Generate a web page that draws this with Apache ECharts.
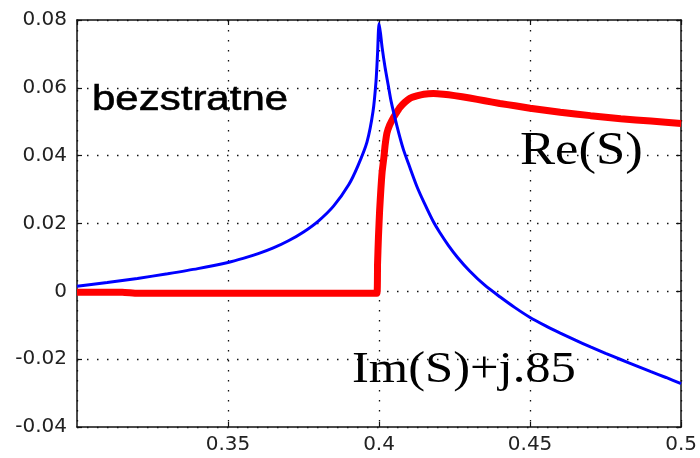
<!DOCTYPE html>
<html><head><meta charset="utf-8">
<script src="https://cdn.jsdelivr.net/npm/echarts@6/dist/echarts.min.js"></script>
<style>html,body{margin:0;padding:0;background:#fff}#c{width:700px;height:458px}</style>
</head><body><div id="c"></div>
<script>
// Im(S)+j.85 (blue)
const imX = [0.300,0.310,0.320,0.330,0.340,0.350,0.355,0.360,0.365,0.370,0.375,0.380,0.385,0.390,0.393,0.396,0.398,0.399,0.3995,0.400,0.4005,0.401,0.402,0.403,0.404,0.406,0.408,0.410,0.4125,0.415,0.418,0.420,0.423,0.426,0.430,0.435,0.440,0.445,0.450,0.455,0.460,0.465,0.470,0.475,0.480,0.485,0.490,0.495,0.500];
const imY = [0.0015,0.0026,0.0038,0.0052,0.0067,0.0085,0.0097,0.0111,0.0128,0.0149,0.0175,0.0208,0.0252,0.0315,0.0370,0.0440,0.0530,0.0620,0.0700,0.0790,0.0760,0.0720,0.0660,0.0610,0.0560,0.0485,0.0420,0.0370,0.0310,0.0260,0.0205,0.0175,0.0135,0.0100,0.0060,0.0018,-0.0016,-0.0048,-0.0077,-0.0101,-0.0123,-0.0144,-0.0164,-0.0183,-0.0201,-0.0219,-0.0237,-0.0254,-0.0272];
// Re(S) (red)
const reX = [0.300,0.315,0.320,0.340,0.360,0.380,0.3993,0.3995,0.3998,0.4002,0.4006,0.401,0.4016,0.402,0.4026,0.4035,0.4048,0.406,0.4069,0.4085,0.4102,0.4125,0.4148,0.418,0.4213,0.425,0.430,0.435,0.440,0.445,0.450,0.460,0.470,0.480,0.490,0.500];
const reY = [-0.0003,-0.0003,-0.0006,-0.0006,-0.0006,-0.0006,-0.0006,0.008,0.016,0.024,0.030,0.035,0.0395,0.043,0.0466,0.049,0.0513,0.053,0.0542,0.0557,0.0569,0.0576,0.0581,0.0583,0.0581,0.0577,0.0570,0.0562,0.0554,0.0547,0.0540,0.0528,0.0518,0.0509,0.0502,0.0495];
const xMin = 0.3, xMax = 0.5, xStep = 0.05;
const yMin = -0.04, yMax = 0.08, yStep = 0.02;
const annotations = ["bezstratne", "Re(S)", "Im(S)+j.85"];

const zip = (a, b) => a.map((v, i) => [v, b[i]]);
const chart = echarts.init(document.getElementById('c'), null, {renderer: 'canvas'});
const gridLine = {show: true, lineStyle: {color: '#111', width: 1.3, type: [1.5, 8.5]}};
const axisBase = {
  axisLine: {show: true, onZero: false, lineStyle: {color: '#111', width: 1.5}},
  axisTick: {show: true, inside: true, length: 5, lineStyle: {color: '#111', width: 1.2}}
};
chart.setOption({
  animation: false,
  backgroundColor: '#fff',
  grid: {left: 77, right: 13, top: 20, bottom: 31},
  xAxis: [
    Object.assign({type: 'value', min: xMin, max: xMax, interval: xStep, position: 'bottom',
      splitLine: gridLine,
      axisLabel: {showMinLabel: false, showMaxLabel: true, color: '#222', fontFamily: 'DejaVu Sans', fontSize: 20, margin: 8,
        formatter: v => String(+v.toFixed(2))}}, axisBase),
    Object.assign({type: 'value', min: xMin, max: xMax, interval: xStep, position: 'top',
      splitLine: {show: false}, axisLabel: {show: false}}, axisBase)
  ],
  yAxis: [
    Object.assign({type: 'value', min: yMin, max: yMax, interval: yStep, position: 'left',
      splitLine: gridLine,
      axisLabel: {color: '#222', fontFamily: 'DejaVu Sans', fontSize: 20, margin: 10,
        formatter: v => String(+v.toFixed(2))}}, axisBase),
    Object.assign({type: 'value', min: yMin, max: yMax, interval: yStep, position: 'right',
      splitLine: {show: false}, axisLabel: {show: false}}, axisBase)
  ],
  series: [
    {type: 'line', name: 'Re(S)', data: zip(reX, reY), showSymbol: false, symbol: 'none',
      smooth: 0.15,
      lineStyle: {color: '#ff0000', width: 7}, xAxisIndex: 0, yAxisIndex: 0, z: 2},
    {type: 'line', name: 'Im(S)+j.85', data: zip(imX, imY), showSymbol: false, symbol: 'none',
      smooth: 0.25,
      lineStyle: {color: '#0000ff', width: 3}, xAxisIndex: 0, yAxisIndex: 0, z: 3}
  ],
  graphic: [
    {type: 'text', x: 92, y: 100, scaleX: 1.2, originX: 0, originY: 0, z: 10,
      style: {text: annotations[0], fontFamily: 'Liberation Sans', fontSize: 35, fill: '#000', stroke: '#000', lineWidth: 0.6, textAlign: 'left', textVerticalAlign: 'middle'}},
    {type: 'text', x: 520, y: 152, scaleX: 1.12, originX: 0, originY: 0, z: 10,
      style: {text: annotations[1], fontFamily: 'Liberation Serif', fontSize: 47, fill: '#000', textAlign: 'left', textVerticalAlign: 'middle'}},
    {type: 'text', x: 352, y: 370, scaleX: 1.15, originX: 0, originY: 0, z: 10,
      style: {text: annotations[2], fontFamily: 'Liberation Serif', fontSize: 44, fill: '#000', textAlign: 'left', textVerticalAlign: 'middle'}}
  ]
});
</script></body></html>
